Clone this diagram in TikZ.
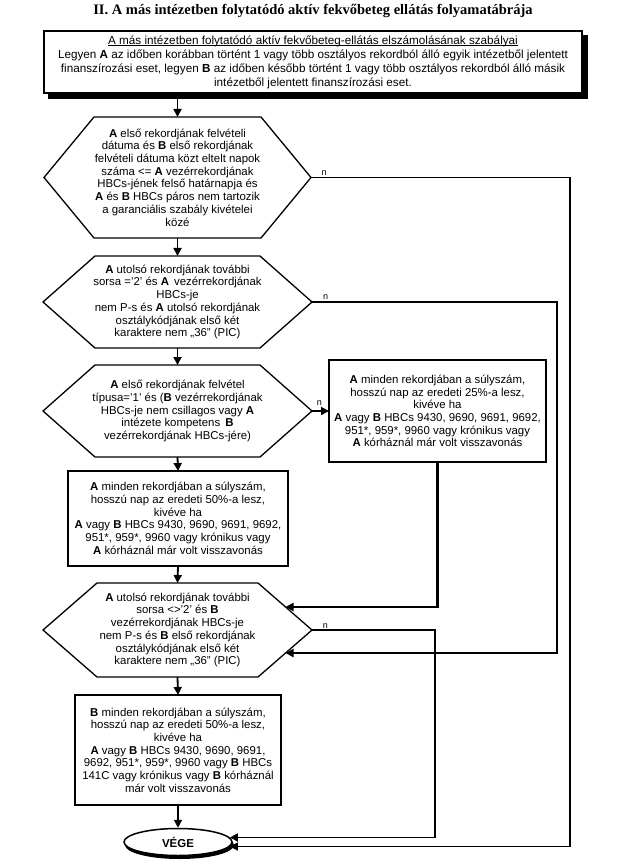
\documentclass[tikz,border=0pt]{standalone}
\usepackage{fontspec}
\setmainfont{Liberation Sans}
\newfontfamily\titlefont{Liberation Serif}
\usetikzlibrary{arrows.meta,calc,shapes.geometric,backgrounds}
\newcommand{\bA}{\textbf{A}}
\newcommand{\bB}{\textbf{B}}
\newcommand{\thickul}[1]{\setbox0\hbox{#1}\rlap{\rule[-2.2pt]{\wd0}{0.9pt}}\box0}
\newcommand{\txtfont}{\fontsize{11.4}{12.7}\selectfont}
\newcommand{\drawhex}[2]{\draw[line width=1.3pt] ([xshift=#2]#1.north west) -- ([xshift=-#2]#1.north east) -- (#1.east) -- ([xshift=-#2]#1.south east) -- ([xshift=#2]#1.south west) -- (#1.west) -- cycle;}
\begin{document}
\begin{tikzpicture}[x=1pt,y=-1pt,
  hexnode/.style={draw=none, inner sep=0pt, outer sep=0pt, align=center, font=\txtfont},
  procbox/.style={draw, line width=1.6pt, fill=white, inner sep=0pt, outer sep=0pt, align=center, font=\txtfont},
  conn/.style={line width=1.8pt, -{Triangle[length=8pt,width=8pt]}},
  nlab/.style={anchor=south west, inner sep=1pt, xshift=9pt, font=\fontsize{9}{10}\selectfont}]
\useasboundingbox (0,0) rectangle (624,866);

\node[font={\titlefont\bfseries\fontsize{14.5}{16}\selectfont}] (title) at (313,11)
  {II. A más intézetben folytatódó aktív fekvőbeteg ellátás folyamatábrája};

\node[draw, line width=1.4pt, fill=white, minimum width=538pt, minimum height=62pt, inner sep=0pt, align=center, font=\fontsize{11.7}{14}\selectfont] (top) at (313,62)
  {\thickul{A más intézetben folytatódó aktív fekvőbeteg-ellátás elszámolásának szabályai}\\
   Legyen \bA{} az időben korábban történt 1 vagy több osztályos rekordból álló egyik intézetből jelentett\\
   finanszírozási eset, legyen \bB{} az időben később történt 1 vagy több osztályos rekordból álló másik\\
   intézetből jelentett finanszírozási eset.};
\begin{pgfonlayer}{background}
\fill ($(top.north west)+(5,5)$) rectangle ($(top.south east)+(5,5)$);
\end{pgfonlayer}

\node[hexnode, minimum width=267pt, minimum height=121pt] (h1) at (177.5,177.5)
  {\bA{} első rekordjának felvételi\\
   dátuma és \bB{} első rekordjának\\
   felvételi dátuma közt eltelt napok\\
   száma <= \bA{} vezérrekordjának\\
   HBCs-jének felső határnapja és\\
   \bA{} és \bB{} HBCs páros nem tartozik\\
   a garanciális szabály kivételei\\
   közé};
\drawhex{h1}{50pt}

\node[hexnode, minimum width=269pt, minimum height=92pt] (h2) at (177.5,302)
  {\bA{} utolsó rekordjának további\\
   sorsa ='2' és \bA{}\, vezérrekordjának\\
   HBCs-je\\
   nem P-s és \bA{} utolsó rekordjának\\
   osztálykódjának első két\\
   karaktere nem „36” (PIC)};
\drawhex{h2}{52pt}

\node[hexnode, minimum width=269pt, minimum height=92pt] (h3) at (177.5,411)
  {\bA{} első rekordjának felvétel\\
   típusa='1' és (\bB{} vezérrekordjának\\
   HBCs-je nem csillagos vagy \bA\\
   intézete kompetens\, \bB\\
   vezérrekordjának HBCs-jére)};
\drawhex{h3}{52pt}

\node[procbox, minimum width=217pt, minimum height=102pt] (b25) at (437.5,411)
  {\bA{} minden rekordjában a súlyszám,\\
   hosszú nap az eredeti 25\%-a lesz,\\
   kivéve ha\\
   \bA{} vagy \bB{} HBCs 9430, 9690, 9691, 9692,\\
   951*, 959*, 9960 vagy krónikus vagy\\
   \bA{} kórháznál már volt visszavonás};

\node[procbox, minimum width=220pt, minimum height=95pt] (b50) at (178,518.5)
  {\bA{} minden rekordjában a súlyszám,\\
   hosszú nap az eredeti 50\%-a lesz,\\
   kivéve ha\\
   \bA{} vagy \bB{} HBCs 9430, 9690, 9691, 9692,\\
   951*, 959*, 9960 vagy krónikus vagy\\
   \bA{} kórháznál már volt visszavonás};

\node[hexnode, minimum width=269pt, minimum height=94pt] (h4) at (177.5,630)
  {\bA{} utolsó rekordjának további\\
   sorsa <>'2' és \bB\\
   vezérrekordjának HBCs-je\\
   nem P-s és \bB{} első rekordjának\\
   osztálykódjának első két\\
   karaktere nem „36” (PIC)};
\drawhex{h4}{54pt}
\coordinate (h4a) at ($([xshift=-54pt]h4.north east)!0.51!(h4.east)$);
\coordinate (h4b) at ($([xshift=-54pt]h4.south east)!0.51!(h4.east)$);

\node[procbox, minimum width=206pt, minimum height=110pt] (bB) at (178,750)
  {\bB{} minden rekordjában a súlyszám,\\
   hosszú nap az eredeti 50\%-a lesz,\\
   kivéve ha\\
   \bA{} vagy \bB{} HBCs 9430, 9690, 9691,\\
   9692, 951*, 959*, 9960 vagy \bB{} HBCs\\
   141C vagy krónikus vagy \bB{} kórháznál\\
   már volt visszavonás};

\node[ellipse, draw, line width=1.5pt, fill=white, minimum width=108pt, minimum height=27pt, inner sep=0pt, font={\fontsize{11.5}{13}\selectfont\bfseries}] (vege) at (178,842) {VÉGE};
\begin{pgfonlayer}{background}
\fill ($(vege.center)+(1.5,3)$) ellipse [x radius=54.5pt, y radius=14pt];
\end{pgfonlayer}

% main flow
\draw[conn] (top.south -| h1.north) -- (h1.north);
\draw[conn] (h1.south) -- (h2.north);
\draw[conn] (h2.south) -- (h3.north);
\draw[conn] (h3.south) -- (b50.north);
\draw[conn] (b50.south) -- (h4.north);
\draw[conn] (h4.south) -- (bB.north);
\draw[conn] (bB.south) -- (vege.north);

% "n" branches
\draw[conn] (h3.east) node[nlab, xshift=-6pt, yshift=4pt]{n} -- (b25.west);
\draw[conn, line width=2.2pt] (b25.south) |- (h4a);
\draw[conn, line width=2.4pt] (h2.east) node[nlab]{n} -- ++(245,0) |- (h4b);
\draw[conn, line width=1.4pt] (h1.east) node[nlab]{n} -- ++(259,0) |- (vege.-5);
\draw[conn, line width=1.8pt] (h4.east) node[nlab]{n} -- ++(123,0) |- (vege.5);
\end{tikzpicture}
\end{document}
